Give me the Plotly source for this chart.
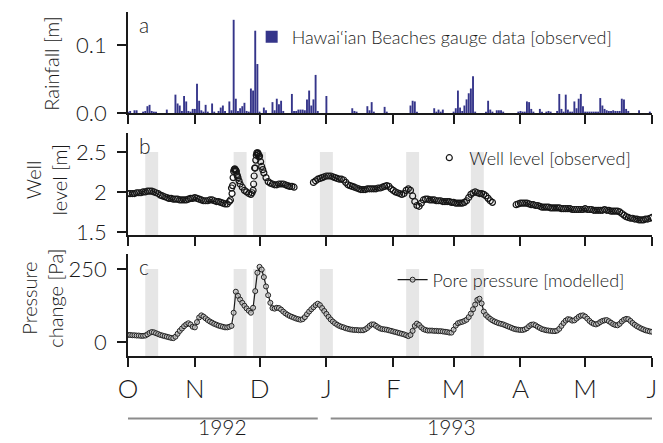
import pandas as pd
import plotly.graph_objects as go

# ---------------------------------------------------------------- data
start = "1992-10-01"
end = "1993-06-01"

# daily rainfall [m], Hawai'ian Beaches gauge, from 1992-10-01
rainfall = [
    0.002, 0.003, 0.000, 0.004, 0.004, 0.000, 0.000, 0.002, 0.003, 0.010,
    0.012, 0.003, 0.002, 0.002, 0.000, 0.000, 0.000, 0.000, 0.005, 0.000,
    0.000, 0.000, 0.027, 0.014, 0.011, 0.003, 0.025, 0.017, 0.003, 0.002,
    0.006, 0.006, 0.043, 0.018, 0.004, 0.002, 0.012, 0.002, 0.000, 0.014,
    0.002, 0.000, 0.003, 0.008, 0.011, 0.003, 0.000, 0.017, 0.004, 0.137,
    0.021, 0.003, 0.007, 0.010, 0.015, 0.003, 0.002, 0.036, 0.033, 0.121,
    0.072, 0.002, 0.000, 0.008, 0.004, 0.000, 0.000, 0.016, 0.004, 0.021,
    0.013, 0.018, 0.003, 0.000, 0.000, 0.000, 0.028, 0.003, 0.003, 0.005,
    0.005, 0.005, 0.004, 0.020, 0.033, 0.011, 0.020, 0.056, 0.003, 0.000,
    0.000, 0.000, 0.025, 0.000, 0.000, 0.000, 0.000, 0.000, 0.000, 0.000,
    0.000, 0.000, 0.000, 0.000, 0.007, 0.003, 0.002, 0.000, 0.000, 0.000,
    0.000, 0.010, 0.004, 0.016, 0.002, 0.000, 0.000, 0.000, 0.000, 0.009,
    0.002, 0.000, 0.000, 0.000, 0.000, 0.000, 0.000, 0.000, 0.000, 0.000,
    0.000, 0.011, 0.018, 0.017, 0.002, 0.000, 0.000, 0.000, 0.000, 0.000,
    0.000, 0.000, 0.007, 0.002, 0.005, 0.002, 0.005, 0.000, 0.000, 0.000,
    0.000, 0.002, 0.007, 0.033, 0.008, 0.003, 0.011, 0.020, 0.029, 0.036,
    0.054, 0.002, 0.000, 0.000, 0.000, 0.000, 0.002, 0.018, 0.005, 0.002,
    0.000, 0.004, 0.004, 0.004, 0.002, 0.000, 0.000, 0.000, 0.000, 0.000,
    0.000, 0.002, 0.003, 0.002, 0.002, 0.017, 0.016, 0.006, 0.002, 0.000,
    0.000, 0.006, 0.002, 0.000, 0.002, 0.003, 0.002, 0.000, 0.000, 0.003,
    0.028, 0.006, 0.002, 0.027, 0.005, 0.002, 0.002, 0.017, 0.007, 0.021,
    0.028, 0.010, 0.002, 0.002, 0.002, 0.002, 0.002, 0.002, 0.002, 0.022,
    0.011, 0.006, 0.004, 0.003, 0.003, 0.004, 0.003, 0.003, 0.003, 0.021,
    0.020, 0.006, 0.003, 0.000, 0.000, 0.000, 0.000, 0.004, 0.000, 0.000,
    0.000, 0.000, 0.002, 0.000,
]

# daily well level [m]; three recording periods separated by outages
well_oct_dec = [
    1.98, 1.98, 1.98, 1.98, 1.99, 1.99, 1.99, 2.00, 2.00, 2.01,
    2.01, 2.01, 2.00, 1.99, 1.98, 1.96, 1.95, 1.94, 1.93, 1.92,
    1.92, 1.91, 1.91, 1.91, 1.90, 1.90, 1.90, 1.90, 1.91, 1.92,
    1.92, 1.93, 1.92, 1.91, 1.90, 1.89, 1.89, 1.89, 1.90, 1.90,
    1.89, 1.88, 1.88, 1.87, 1.86, 1.85, 1.85, 1.88, 2.05, 2.26,
    2.27, 2.18, 2.10, 2.06, 2.02, 2.00, 1.98, 1.97, 2.02, 2.30,
    2.48, 2.45, 2.32, 2.24, 2.18, 2.13, 2.11, 2.10, 2.09, 2.09,
    2.10, 2.10, 2.10, 2.09, 2.08, 2.07, 2.07, 2.06,
]
well_dec_mar = [
    2.12, 2.14, 2.16, 2.17, 2.18, 2.19, 2.20, 2.20, 2.20, 2.19,
    2.18, 2.17, 2.16, 2.16, 2.15, 2.12, 2.09, 2.08, 2.07, 2.06,
    2.05, 2.04, 2.03, 2.03, 2.03, 2.04, 2.04, 2.04, 2.04, 2.04,
    2.05, 2.05, 2.06, 2.07, 2.08, 2.07, 2.04, 2.02, 2.00, 1.99,
    1.98, 1.97, 1.98, 2.02, 2.04, 2.02, 1.95, 1.88, 1.83, 1.82,
    1.86, 1.90, 1.91, 1.91, 1.90, 1.90, 1.90, 1.89, 1.89, 1.89,
    1.88, 1.88, 1.88, 1.88, 1.87, 1.87, 1.86, 1.86, 1.86, 1.86,
    1.87, 1.89, 1.93, 1.97, 1.99, 2.00, 1.99, 1.98, 1.98, 1.97,
    1.95, 1.92, 1.89, 1.87,
]
well_mar_jun = [
    1.84, 1.85, 1.86, 1.86, 1.86, 1.86, 1.85, 1.84, 1.84, 1.83,
    1.83, 1.82, 1.81, 1.81, 1.81, 1.81, 1.80, 1.80, 1.80, 1.80,
    1.80, 1.79, 1.79, 1.79, 1.79, 1.79, 1.78, 1.78, 1.78, 1.78,
    1.78, 1.78, 1.79, 1.78, 1.78, 1.78, 1.77, 1.77, 1.77, 1.77,
    1.77, 1.78, 1.77, 1.77, 1.76, 1.76, 1.76, 1.76, 1.75, 1.73,
    1.71, 1.69, 1.68, 1.67, 1.67, 1.66, 1.66, 1.65, 1.65, 1.65,
    1.66, 1.66, 1.67, 1.68,
]
well_gap_1 = 8    # days without record, Dec 1992
well_gap_2 = 10   # days without record, Mar 1993

# extra sub-daily well readings during the two November storms
storm_times = [
    "1992-11-17 12:00", "1992-11-18 06:00", "1992-11-18 12:00", "1992-11-18 18:00",
    "1992-11-19 06:00", "1992-11-19 12:00", "1992-11-19 18:00", "1992-11-20 06:00",
    "1992-11-20 12:00", "1992-11-20 18:00", "1992-11-21 12:00",
    "1992-11-27 12:00", "1992-11-28 06:00", "1992-11-28 12:00", "1992-11-28 18:00",
    "1992-11-29 06:00", "1992-11-29 12:00", "1992-11-29 18:00", "1992-11-30 06:00",
    "1992-11-30 12:00", "1992-11-30 18:00", "1992-12-01 12:00", "1992-12-02 12:00",
]
storm_levels = [
    1.90, 1.98, 2.08, 2.18,
    2.28, 2.29, 2.28, 2.26,
    2.22, 2.20, 2.14,
    1.99, 2.10, 2.20, 2.30,
    2.40, 2.46, 2.49, 2.49,
    2.47, 2.44, 2.38, 2.28,
]

# modelled daily pore-pressure change [Pa]
pore_pressure = [
    24, 24, 23, 23, 22, 22, 21, 21, 22,
    26, 31, 34, 33, 30, 27, 24, 22, 20, 18, 16, 14, 13,
    18, 28, 38, 46, 54, 60, 64, 60, 52, 50,
    68, 84, 91, 87, 81, 75, 70, 66, 62, 59, 56, 54, 52, 50, 50, 52,
    55, 100, 172, 158, 145, 134, 124, 115, 107, 100,
    117, 174, 237, 257, 248, 222, 190, 160, 134, 116,
    114, 117, 116, 111, 104, 98, 93, 89, 86, 83, 80, 78, 76,
    78, 85, 95, 104, 112, 119, 126, 131,
    126, 116, 106, 96, 86, 77, 70, 64, 59, 55, 52,
    50, 47, 45, 43, 42, 41, 41, 40, 40, 40,
    43, 48, 55, 60, 60, 55, 50, 46, 44, 43, 42, 40,
    38, 36, 34, 32, 30, 28, 26, 23, 20,
    24, 38, 55, 63, 58, 50, 44, 41, 39,
    39, 39, 38, 38, 37, 37, 36, 35, 34, 32, 32,
    42, 56, 64, 67, 69, 72, 76, 85, 97, 112, 128, 144, 148,
    132, 104, 92, 85, 79, 74, 70, 67, 64, 62, 60, 57,
    54, 51, 48, 45, 43, 42, 41, 41, 43, 47, 54, 59,
    60, 57, 52, 48, 44, 42, 40, 39, 38, 37, 37, 39,
    45, 55, 65, 73, 78, 77, 73, 74, 80, 86, 90, 91, 87, 80, 72, 66,
    62, 60, 63, 68, 72, 74, 75, 71, 66, 61, 58, 57,
    62, 70, 76, 79, 78, 72, 65, 59, 54, 50, 46, 43, 40, 38, 36, 35,
]

# storm periods highlighted in panels b and c
storm_start = ["1992-10-09", "1992-11-19", "1992-11-28", "1992-12-29", "1993-02-07", "1993-03-09"]
storm_end = ["1992-10-15", "1992-11-25", "1992-12-04", "1993-01-04", "1993-02-13", "1993-03-15"]

month_ticks = pd.date_range(start, end, freq="MS")
month_labels = ["O", "N", "D", "J", "F", "M", "A", "M", "J"]

years = ["1992", "1993"]
year_from = ["1992-10-01", "1993-01-03"]
year_to = ["1992-12-28", "1993-06-01"]
year_label_at = ["1992-11-14", "1993-02-28"]

# ---------------------------------------------------------------- series
rain_days = pd.date_range(start, periods=len(rainfall), freq="D")
pore_days = pd.date_range(start, periods=len(pore_pressure), freq="D")
well_daily = well_oct_dec + [None] * well_gap_1 + well_dec_mar + [None] * well_gap_2 + well_mar_jun
well = pd.DataFrame({"t": pd.date_range(start, periods=len(well_daily), freq="D"), "h": well_daily})
well = pd.concat([well, pd.DataFrame({"t": pd.to_datetime(storm_times), "h": storm_levels})])
well = well.dropna().sort_values("t")

# ---------------------------------------------------------------- style
FONT = "Lato"
INK = "#1a1a1a"
BAND = "#e6e6e6"
RAIN = "rgba(36, 36, 128, 0.92)"

ranges = {"y": [0, 0.1485], "y2": [1.46, 2.74], "y3": [-48, 301]}
domains = {"y": [0.7064, 1.0], "y2": [0.3517, 0.6483], "y3": [0.0, 0.2965]}

fig = go.Figure()

fig.add_trace(go.Bar(
    x=rain_days, y=rainfall, xaxis="x", yaxis="y",
    marker=dict(color=RAIN, line=dict(width=0)),
    name="Hawai\u2018ian Beaches gauge data [observed]", legend="legend",
))
fig.add_trace(go.Scatter(
    x=well["t"], y=well["h"], xaxis="x2", yaxis="y2", mode="markers",
    marker=dict(symbol="circle-open", size=6, color="#161616", line=dict(width=1.2)),
    name="Well level [observed]", legend="legend2",
))
fig.add_trace(go.Scatter(
    x=pore_days, y=pore_pressure, xaxis="x3", yaxis="y3", mode="lines+markers",
    line=dict(color=INK, width=1.2),
    marker=dict(symbol="circle", size=5, color="rgba(200,200,200,0.75)",
                line=dict(color="#222222", width=1)),
    name="Pore pressure [modelled]", legend="legend3",
))

# grey storm bands
for ax, top in (("2", 2.5), ("3", 250)):
    for s, e in zip(storm_start, storm_end):
        fig.add_shape(type="rect", xref="x" + ax, yref="y" + ax, x0=s, x1=e,
                      y0=ranges["y" + ax][0], y1=top, fillcolor=BAND,
                      line=dict(width=0), layer="below")

axis_common = dict(showgrid=False, zeroline=False, showline=True, linecolor=INK,
                   linewidth=1.8, ticks="outside", tickcolor=INK, tickwidth=1.6)

layout = dict(
    width=663, height=443,
    margin=dict(l=128, r=6, t=12, b=87),
    paper_bgcolor="white", plot_bgcolor="white",
    font=dict(family=FONT, color=INK, size=20, weight=300),
    bargap=0.12, showlegend=True,
)
for key in ["", "2", "3"]:
    last = key == "3"
    layout["xaxis" + key] = dict(
        axis_common, range=[start, end], domain=[0, 1], anchor="y" + key,
        tickvals=month_ticks, ticktext=month_labels, ticklen=9,
        showticklabels=last, tickfont=dict(size=26, family=FONT, weight=300),
        ticklabelstandoff=0,
    )
ytick = {
    "y": ([0, 0.1], ["0.0", "0.1"]),
    "y2": ([1.5, 2, 2.5], ["1.5", "2", "2.5"]),
    "y3": ([0, 250], ["0", "250"]),
}
for key in ["y", "y2", "y3"]:
    name = "yaxis" + key[1:]
    layout[name] = dict(
        axis_common, range=ranges[key], domain=domains[key], anchor="x" + key[1:],
        tickvals=ytick[key][0], ticktext=ytick[key][1], ticklen=9,
        tickfont=dict(size=22, family=FONT, weight=300), ticklabelstandoff=6,
    )

legend_font = dict(size=18, family=FONT, weight=300, color=INK)
layout["legend"] = dict(x=0.236, y=0.927, xanchor="left", yanchor="middle",
                        bgcolor="rgba(0,0,0,0)", font=legend_font)
layout["legend2"] = dict(x=0.575, y=0.5756, xanchor="left", yanchor="middle",
                         bgcolor="rgba(0,0,0,0)", font=legend_font)
layout["legend3"] = dict(x=0.505, y=0.221, xanchor="left", yanchor="middle",
                         bgcolor="rgba(0,0,0,0)", font=legend_font)
fig.update_layout(**layout)

# axis titles
titles = [("Rainfall [m]", -0.1474, 0.849),
          ("Well<br>level [m]", -0.157, 0.512),
          ("Pressure<br>change [Pa]", -0.1645, 0.169)]
for text, x, y in titles:
    fig.add_annotation(text=text, xref="paper", yref="paper", x=x, y=y,
                       textangle=-90, showarrow=False, xanchor="center", yanchor="middle",
                       font=dict(size=20, family=FONT, weight=300))

# panel letters
for letter, y in (("a", 1.0), ("b", 0.6483), ("c", 0.2965)):
    fig.add_annotation(text=letter, xref="paper", yref="paper", x=0.018, y=y + 0.005,
                       xanchor="left", yanchor="top", showarrow=False,
                       font=dict(size=21, family=FONT, weight=300))

# year brackets under the month axis
for label, x0, x1, xm in zip(years, year_from, year_to, year_label_at):
    fig.add_shape(type="line", xref="x3", yref="paper", x0=x0, x1=x1,
                  y0=-0.182, y1=-0.182, line=dict(color="#8c8c8c", width=2))
    fig.add_annotation(text=label, xref="x3", yref="paper", x=xm, y=-0.2442,
                       showarrow=False, xanchor="center", yanchor="bottom", borderpad=0,
                       font=dict(size=21, family=FONT, weight=300))

fig.write_html("out.html")
